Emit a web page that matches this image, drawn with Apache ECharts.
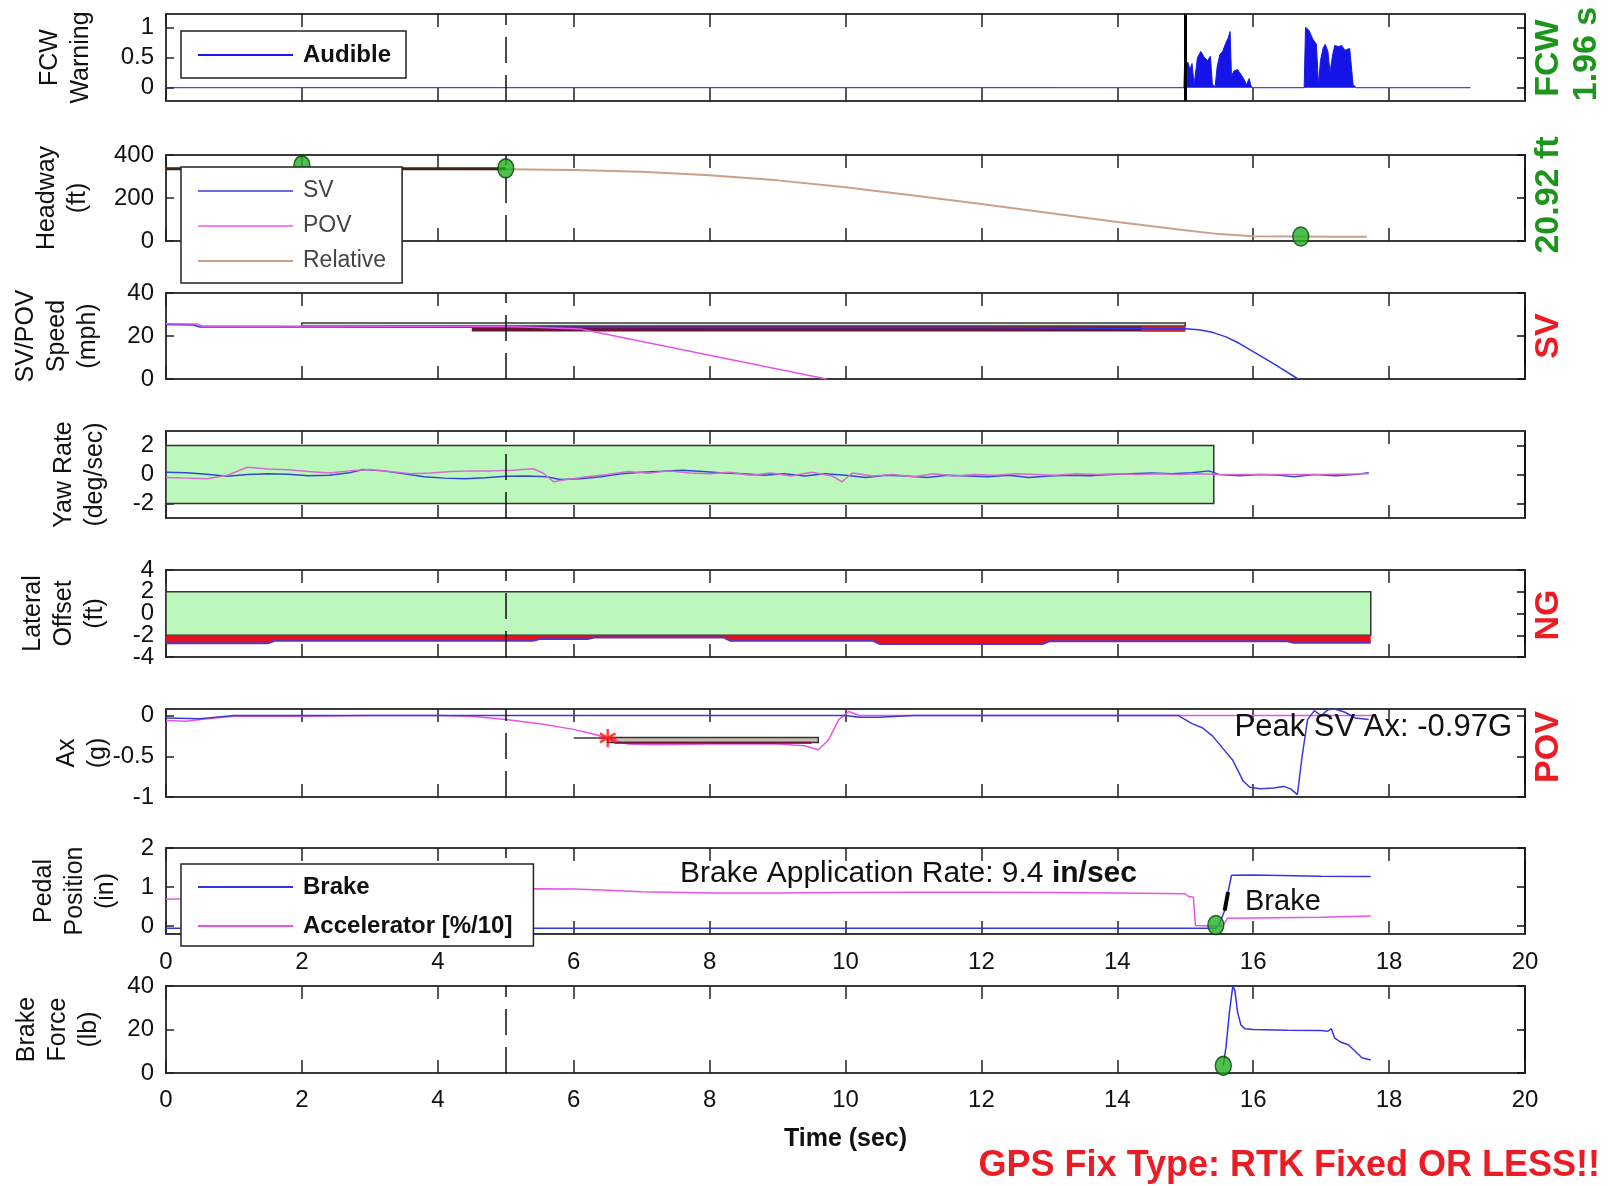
<!DOCTYPE html>
<html>
<head>
<meta charset="utf-8">
<title>FCW test run</title>
<script src="https://cdn.jsdelivr.net/npm/echarts@6/dist/echarts.min.js"></script>
<style>
  html, body { margin: 0; padding: 0; background: #fff; }
  #chart { width: 1616px; height: 1186px; }
</style>
</head>
<body>
<div id="chart"></div>
<script>
// ---------- time axis ----------
const timeTicks = [0, 2, 4, 6, 8, 10, 12, 14, 16, 18, 20];

// ---------- FCW warning (audible), [t, level] ----------
const fcwAudible = [
  [0, 0], [14.98, 0],
  [14.99, 0.38], [15.04, 0.42], [15.07, 0.3], [15.1, 0.4], [15.13, 0.05], [15.15, 0.02],
  [15.18, 0.5], [15.23, 0.6], [15.28, 0.5], [15.33, 0.45], [15.37, 0.52], [15.4, 0.05],
  [15.44, 0.02], [15.47, 0.35], [15.51, 0.55], [15.55, 0.6], [15.59, 0.72], [15.63, 0.82],
  [15.66, 0.93], [15.68, 0.2], [15.72, 0.28], [15.77, 0.3], [15.82, 0.22], [15.86, 0.15],
  [15.9, 0.05], [15.94, 0.15], [15.97, 0.02], [16.0, 0],
  [16.75, 0], [16.77, 1.0], [16.82, 0.95], [16.88, 0.8], [16.93, 0.72], [16.96, 0.05],
  [16.99, 0.45], [17.03, 0.66], [17.06, 0.72], [17.1, 0.6], [17.13, 0.25], [17.17, 0.55],
  [17.2, 0.7], [17.26, 0.68], [17.3, 0.7], [17.35, 0.62], [17.42, 0.65], [17.47, 0.05],
  [17.52, 0], [19.2, 0]
];
const warningOnset = 15.0;
const ttcAtWarning = '1.96 s';

// ---------- headway (ft) ----------
const headwaySV = [];
const headwayPOV = [];
const headwayRelative = [
  [0, 336], [1, 336], [2, 336], [3, 336], [4, 335], [5, 334], [6, 330], [7, 322],
  [8, 306], [9, 282], [10, 250], [11, 212], [12, 172], [13, 130], [14, 88], [15, 50],
  [15.5, 32], [16, 22], [16.7, 20.92], [17.2, 20], [17.67, 20]
];
const headwayHold = [[0, 336], [5, 336]];
const headwayDots = [[2, 352], [5, 338]];
const minHeadway = [16.7, 20.92];

// ---------- speed (mph) ----------
const svSpeed = [
  [0, 25.3], [0.4, 25.1], [0.5, 24.2], [2, 24.2], [5, 24.1], [8, 24.0], [12, 23.9],
  [15, 23.4], [15.2, 22.9], [15.4, 21.7], [15.6, 19.6], [15.8, 16.5], [16, 12.7],
  [16.2, 9.0], [16.4, 5.2], [16.66, 0]
];
const povSpeed = [
  [0, 25.7], [0.45, 25.6], [0.55, 24.6], [5, 24.4], [5.5, 24.0], [6.1, 23.3], [9.72, 0]
];
const speedGate = [[2, 24.6], [15, 26.0]];
const speedBandSteady = [[4.5, 22.1], [15, 24.5]];
const speedBandLate = [[14.35, 22.1], [15, 24.5]];

// ---------- yaw rate (deg/sec) ----------
const yawSV = [
  [0, 0.15], [0.3, 0.12], [0.6, 0.02], [0.9, -0.12], [1.2, 0.0], [1.5, 0.05], [1.8, 0.02],
  [2.1, -0.08], [2.4, -0.05], [2.7, 0.12], [2.9, 0.35], [3.2, 0.25], [3.5, 0.05], [3.8, -0.15],
  [4.1, -0.25], [4.4, -0.3], [4.7, -0.22], [5.0, -0.12], [5.3, -0.1], [5.6, -0.15], [5.8, -0.35],
  [6.1, -0.3], [6.4, -0.15], [6.7, 0.05], [7.0, 0.15], [7.3, 0.22], [7.6, 0.3], [7.9, 0.2],
  [8.2, 0.1], [8.5, 0.05], [8.8, -0.05], [9.1, 0.05], [9.4, -0.1], [9.7, 0.05], [10.0, -0.05],
  [10.3, -0.2], [10.6, -0.05], [10.9, -0.1], [11.2, -0.2], [11.5, -0.05], [11.8, -0.1],
  [12.1, -0.15], [12.4, -0.05], [12.7, -0.2], [13.0, -0.1], [13.3, -0.05], [13.6, -0.08],
  [13.9, 0.0], [14.2, 0.05], [14.5, 0.1], [14.8, 0.05], [15.1, 0.12], [15.35, 0.25], [15.5, 0.0],
  [15.8, -0.08], [16.1, 0.0], [16.4, -0.05], [16.6, -0.15], [16.9, 0.0], [17.2, -0.08],
  [17.5, 0.0], [17.7, 0.12]
];
const yawPOV = [
  [0, -0.2], [0.3, -0.25], [0.6, -0.3], [0.9, -0.05], [1.2, 0.5], [1.5, 0.38], [1.8, 0.32],
  [2.1, 0.2], [2.4, 0.1], [2.7, 0.25], [3.0, 0.35], [3.3, 0.2], [3.6, 0.05], [3.9, 0.1],
  [4.2, 0.2], [4.5, 0.25], [4.8, 0.25], [5.1, 0.3], [5.4, 0.4], [5.55, 0.1], [5.7, -0.5],
  [5.9, -0.35], [6.2, -0.15], [6.5, 0.0], [6.8, 0.2], [7.1, 0.08], [7.4, 0.25], [7.7, 0.1],
  [8.0, 0.05], [8.3, 0.15], [8.6, -0.05], [8.9, 0.1], [9.2, -0.1], [9.5, 0.15], [9.8, -0.1],
  [9.95, -0.5], [10.1, 0.1], [10.4, -0.1], [10.7, 0.0], [11.0, -0.15], [11.3, 0.05],
  [11.6, -0.1], [11.9, 0.0], [12.2, -0.05], [12.5, 0.05], [12.8, 0.0], [13.1, -0.05],
  [13.4, 0.05], [13.7, 0.0], [14.0, 0.05], [14.3, 0.0], [14.6, 0.05], [14.9, 0.0],
  [15.2, 0.05], [15.5, 0.0], [16.0, 0.0], [16.5, 0.0], [17.0, 0.0], [17.7, 0.05]
];
const yawGate = [[0, -2], [15.42, 2]];

// ---------- lateral offset (ft) ----------
const lateralOffset = [
  [0, -2.73], [1.5, -2.73], [1.6, -2.5], [5.4, -2.5], [5.5, -2.35], [6.2, -2.35],
  [6.3, -2.2], [8.2, -2.2], [8.3, -2.5], [10.4, -2.5], [10.5, -2.8], [12.9, -2.8],
  [13.0, -2.55], [16.5, -2.55], [16.6, -2.7], [17.73, -2.7]
];
const laneGate = [[0, -2], [17.73, 2]];
const laneEdge = -2;

// ---------- longitudinal acceleration (g) ----------
const axSV = [
  [0, -0.03], [0.5, -0.04], [1, 0], [5, 0], [10, 0], [10.2, -0.02], [10.5, -0.02], [11, 0],
  [14.9, 0], [15.0, -0.05], [15.1, -0.1], [15.25, -0.15], [15.4, -0.25], [15.55, -0.4],
  [15.7, -0.55], [15.85, -0.8], [15.95, -0.88], [16.1, -0.9], [16.3, -0.89], [16.45, -0.87],
  [16.55, -0.9], [16.65, -0.97], [16.72, -0.5], [16.8, -0.05], [16.9, 0.06], [17.0, 0.0],
  [17.1, 0.07], [17.2, 0.08], [17.35, 0.04], [17.5, -0.03], [17.7, -0.05]
];
const axPOV = [
  [0, -0.06], [0.3, -0.07], [0.6, -0.04], [1, -0.01], [2, -0.01], [3, 0.0], [4, 0.0],
  [4.5, -0.01], [5, -0.05], [5.5, -0.1], [6, -0.17], [6.3, -0.23], [6.6, -0.3], [6.8, -0.35],
  [7.2, -0.36], [8, -0.35], [9, -0.35], [9.4, -0.37], [9.6, -0.42], [9.75, -0.3],
  [9.9, -0.05], [10.05, 0.05], [10.2, 0.0], [11, 0], [17.75, 0]
];
const axGateLead = [[6.0, -0.275], [6.5, -0.275]];
const axGate = [[6.5, -0.33], [9.6, -0.27]];
const axSteady = [[6.6, -0.335], [9.5, -0.335]];
const axOnset = [6.5, -0.275];

// ---------- pedal position (in) ----------
const brakePedal = [
  [0, -0.05], [15.45, -0.05], [15.5, 0.05], [15.58, 0.4], [15.63, 0.87], [15.68, 1.3],
  [16, 1.31], [17, 1.28], [17.73, 1.27]
];
const accelPedal = [
  [0, 0.69], [0.3, 0.7], [2, 0.8], [4, 0.9], [5.45, 0.96], [6, 0.95], [6.5, 0.92], [7, 0.88],
  [8, 0.85], [9, 0.85], [10, 0.86], [11, 0.87], [12, 0.87], [13, 0.86], [14, 0.85],
  [15, 0.83], [15.05, 0.76], [15.12, 0.74], [15.15, 0.02], [15.55, 0.0], [15.62, 0.2],
  [16, 0.21], [17, 0.23], [17.73, 0.26]
];
const brakeOnsetPedal = [15.45, 0.03];
const brakeRate = 9.4;            // in/sec
const brakeRateStart = [15.58, 0.40];
const brakeRateSpan = 0.05;       // sec

// ---------- brake force (lb) ----------
const brakeForce = [
  [15.56, 3.3], [15.6, 12], [15.65, 28], [15.7, 40], [15.73, 38], [15.77, 28], [15.82, 22],
  [15.88, 20.3], [16, 20], [16.5, 19.6], [17, 19.5], [17.1, 19.2], [17.15, 20.4], [17.2, 16],
  [17.3, 14], [17.4, 13], [17.5, 10], [17.6, 7], [17.73, 6]
];
const brakeOnsetForce = [15.56, 3.3];

// ---------- axis ticks per panel ----------
const fcwTicks = [0, 0.5, 1];
const headwayTicks = [0, 200, 400];
const speedTicks = [0, 20, 40];
const yawTicks = [-2, 0, 2];
const lateralTicks = [-4, -2, 0, 2, 4];
const lateralTicksOuter = [-4, 0, 4];
const lateralTicksInner = [-2, 2];
const axTicks = [-1, -0.5, 0];
const pedalTicks = [0, 1, 2];
const forceTicks = [0, 20, 40];

// ---------- panel titles ----------
const panelTitles = [
  'FCW\nWarning', 'Headway\n(ft)', 'SV/POV\nSpeed\n(mph)', 'Yaw Rate\n(deg/sec)',
  'Lateral\nOffset\n(ft)', 'Ax\n(g)', 'Pedal\nPosition\n(in)', 'Brake\nForce\n(lb)'
];

// ---------- layout ----------
const FONT = '"Liberation Sans", Arial, Helvetica, sans-serif';
const BLUE = '#3434e2';
const PINK = '#e455e6';
const GREEN_FILL = '#bcf7bc';
const DOT = { color: '#22b022', borderColor: '#0d3d0d', borderWidth: 1.5 };

// labelTicks: the lateral axis packs five labels tightly, so they are split over two label layers
const panels = [
  { top: 14,  h: 87, min: -0.22, max: 1.22, ticks: fcwTicks,     titleX: 66 },
  { top: 155, h: 86, min: 0,     max: 400,  ticks: headwayTicks, titleX: 63 },
  { top: 293, h: 86, min: 0,     max: 40,   ticks: speedTicks,   titleX: 57 },
  { top: 431, h: 87, min: -3,    max: 3,    ticks: yawTicks,     titleX: 80 },
  { top: 570, h: 87, min: -4,    max: 4,    ticks: lateralTicks, titleX: 64, labelTicks: lateralTicksOuter, extraLabels: lateralTicksInner },
  { top: 709, h: 88, min: -1,    max: 0.08, ticks: axTicks,      titleX: 83 },
  { top: 848, h: 86, min: -0.2,  max: 2,    ticks: pedalTicks,   titleX: 75 },
  { top: 986, h: 87, min: 0,     max: 40,   ticks: forceTicks,   titleX: 58 }
];

const frameLine = { show: true, onZero: false, lineStyle: { color: '#3a3a3a', width: 2 } };
const yLabelStyle = {
  show: true, fontSize: 24, color: '#111', fontFamily: FONT, margin: 12,
  hideOverlap: false, showMinLabel: true, showMaxLabel: true
};
const grid = [], xAxis = [], yAxis = [], extraY = [];

panels.forEach((p, i) => {
  grid.push({ left: 166, right: 91, top: p.top, height: p.h, containLabel: false, outerBoundsMode: 'none' });
  const showX = i >= 6;
  xAxis.push({
    type: 'value', gridIndex: i, min: 0, max: 20, position: 'bottom',
    axisLine: frameLine,
    axisTick: { show: true, inside: true, length: 13, customValues: timeTicks, lineStyle: { color: '#222', width: 1.5 } },
    axisLabel: { show: showX, customValues: timeTicks, fontSize: 24, color: '#111', fontFamily: FONT, margin: i === 6 ? 16 : 15, hideOverlap: false },
    splitLine: { show: false },
    name: i === 7 ? 'Time (sec)' : '', nameLocation: 'middle', nameGap: 54,
    nameTextStyle: { fontSize: 25, fontWeight: 'bold', color: '#111', fontFamily: FONT }
  });
  xAxis.push({
    type: 'value', gridIndex: i, min: 0, max: 20, position: 'top',
    axisLine: frameLine,
    axisTick: { show: true, inside: true, length: 13, customValues: timeTicks, lineStyle: { color: '#222', width: 1.5 } },
    axisLabel: { show: false }, splitLine: { show: false }
  });
  yAxis.push({
    type: 'value', gridIndex: i, min: p.min, max: p.max, position: 'left',
    axisLine: frameLine,
    axisTick: { show: true, inside: true, length: 8, customValues: p.ticks, lineStyle: { color: '#222', width: 1.5 } },
    axisLabel: Object.assign({ customValues: p.labelTicks || p.ticks }, yLabelStyle),
    splitLine: { show: false }
  });
  yAxis.push({
    type: 'value', gridIndex: i, min: p.min, max: p.max, position: 'right',
    axisLine: { show: true, onZero: false, lineStyle: { color: '#111', width: 2 } },
    axisTick: { show: true, inside: true, length: 8, customValues: p.ticks, lineStyle: { color: '#111', width: 1.5 } },
    axisLabel: { show: false }, splitLine: { show: false }
  });
  if (p.extraLabels) {
    extraY.push({
      type: 'value', gridIndex: i, min: p.min, max: p.max, position: 'left',
      axisLine: { show: false }, axisTick: { show: false }, splitLine: { show: false },
      axisLabel: Object.assign({ customValues: p.extraLabels }, yLabelStyle)
    });
  }
});
yAxis.push(...extraY);

// dashed marker at t = 5 s shared by every panel
const t5Marker = {
  silent: true, symbol: 'none', label: { show: false },
  lineStyle: { color: '#111', width: 1.5, type: [26, 12] },
  data: [{ xAxis: 5 }]
};

function ax(i) { return { xAxisIndex: 2 * i, yAxisIndex: 2 * i }; }
function line(i, name, data, color, width, extra) {
  return Object.assign({
    type: 'line', name, data, ...ax(i), symbol: 'none', showSymbol: false,
    lineStyle: { color, width }, itemStyle: { color }, z: 3, silent: true
  }, extra || {});
}
function box(i, corners, fill, border, z) {
  return {
    type: 'line', data: [], ...ax(i), z: z, silent: true,
    markArea: {
      silent: true,
      itemStyle: { color: fill, borderColor: border, borderWidth: border ? 1.5 : 0 },
      data: [[{ coord: corners[0] }, { coord: corners[1] }]]
    }
  };
}
function dots(i, data, size) {
  return {
    type: 'scatter', data, ...ax(i), symbol: 'circle', symbolSize: size || [16, 19],
    itemStyle: DOT, z: 6, silent: true
  };
}

const brakeRateEnd = [brakeRateStart[0] + brakeRateSpan, brakeRateStart[1] + brakeRate * brakeRateSpan];
const peakAx = Math.min(...axSV.map(d => d[1]));

const series = [
  // FCW
  line(0, 'Audible', fcwAudible, '#1a1ae8', 1, {
    areaStyle: { color: '#1414e6', opacity: 1 },
    markLine: {
      silent: true, symbol: 'none', label: { show: false },
      data: [
        { xAxis: 5, lineStyle: { color: '#111', width: 1.5, type: [26, 12] } },
        { xAxis: warningOnset, lineStyle: { color: '#000', width: 3, type: 'solid' } }
      ]
    }
  }),
  // Headway
  line(1, 'SV', headwaySV, '#6a6ad8', 2),
  line(1, 'POV', headwayPOV, '#ee82ee', 2),
  line(1, 'Relative', headwayRelative, '#c9a08a', 2, { markLine: t5Marker }),
  line(1, 'hold', headwayHold, '#3d2418', 3, { z: 4 }),
  dots(1, headwayDots.concat([minHeadway])),
  // Speed
  box(2, speedGate, '#e2f2e2', '#3a3a3a', 1),
  line(2, 'SV speed', svSpeed, BLUE, 1.5, { markLine: t5Marker }),
  line(2, 'POV speed', povSpeed, PINK, 1.5),
  box(2, speedBandSteady, '#6c1436', null, 4),
  box(2, speedBandLate, '#c8222a', null, 5),
  // Yaw
  box(3, yawGate, GREEN_FILL, '#333', 1),
  line(3, 'SV yaw', yawSV, '#3048d8', 1.5, { markLine: t5Marker }),
  line(3, 'POV yaw', yawPOV, '#d66ad0', 1.5),
  // Lateral
  box(4, laneGate, GREEN_FILL, '#333', 1),
  line(4, 'Offset', lateralOffset, '#5a36c0', 2, {
    areaStyle: { color: '#e4121c', opacity: 1, origin: laneEdge },
    markLine: t5Marker
  }),
  // Ax
  line(5, 'POV ax', axPOV, PINK, 1.5, { markLine: t5Marker }),
  line(5, 'SV ax', axSV, '#3a3ada', 1.5),
  line(5, 'gate lead', axGateLead, '#6a6a6a', 2, { z: 4 }),
  box(5, axGate, '#c8bfb0', '#333', 4),
  line(5, 'steady', axSteady, '#6c1436', 2, { z: 4 }),
  {
    type: 'scatter', data: [axOnset], ...ax(5), silent: true, z: 7,
    symbol: 'path://M0,-10L0,10M-8.66,-5L8.66,5M-8.66,5L8.66,-5M-10,0L10,0',
    symbolSize: 18, itemStyle: { color: 'none', borderColor: '#ff1010', borderWidth: 2.5 }
  },
  // Pedal
  line(6, 'Brake', brakePedal, BLUE, 1.5, { markLine: t5Marker }),
  line(6, 'Accelerator [%/10]', accelPedal, PINK, 1.5),
  line(6, 'rate', [brakeRateStart, brakeRateEnd], '#000', 4, { z: 5 }),
  dots(6, [brakeOnsetPedal]),
  // Brake force
  line(7, 'Force', brakeForce, BLUE, 1.5, { markLine: t5Marker }),
  dots(7, [brakeOnsetForce])
];

const legendBase = {
  orient: 'vertical', left: 181, itemWidth: 95, itemHeight: 24, selectedMode: false,
  borderColor: '#222', borderWidth: 1.5, backgroundColor: '#fff', borderRadius: 0,
  icon: 'path://M0,11L95,11L95,13L0,13Z', z: 10
};
const legend = [
  Object.assign({}, legendBase, {
    data: ['Audible'], top: 31, padding: [12, 15, 11, 17], itemGap: 10,
    textStyle: { fontSize: 24, fontWeight: 'bold', color: '#111', fontFamily: FONT, lineHeight: 24, padding: [0, 0, 0, 5] }
  }),
  Object.assign({}, legendBase, {
    data: ['SV', 'POV', 'Relative'], top: 167, padding: [12, 16, 10, 17], itemGap: 11,
    textStyle: { fontSize: 23, color: '#444', fontFamily: FONT, lineHeight: 24, padding: [0, 0, 0, 5] }
  }),
  Object.assign({}, legendBase, {
    data: ['Brake', 'Accelerator [%/10]'], top: 864, padding: [11, 21, 8, 17], itemGap: 15,
    textStyle: { fontSize: 24, fontWeight: 'bold', color: '#111', fontFamily: FONT, lineHeight: 24, padding: [0, 0, 0, 5] }
  })
];

function sideLabel(text, x, y, color) {
  return {
    type: 'text', x, y, rotation: Math.PI / 2, z: 20, silent: true,
    style: { text, fill: color, fontSize: 34, fontWeight: 'bold', fontFamily: FONT, align: 'center', verticalAlign: 'middle' }
  };
}
function panelTitle(i) {
  const p = panels[i];
  return {
    type: 'text', x: p.titleX, y: p.top + p.h / 2, rotation: Math.PI / 2, z: 20, silent: true,
    style: {
      text: panelTitles[i], fill: '#111', fontSize: 25, lineHeight: 31, fontFamily: FONT,
      align: 'center', verticalAlign: 'middle'
    }
  };
}
const GREEN_TXT = '#1d951d';
const RED_TXT = '#ec1c24';

const graphic = panels.map((p, i) => panelTitle(i)).concat([
  sideLabel('FCW', 1549, 58, GREEN_TXT),
  sideLabel(ttcAtWarning, 1587, 54, GREEN_TXT),
  sideLabel(minHeadway[1].toFixed(2) + ' ft', 1549, 195, GREEN_TXT),
  sideLabel('SV', 1549, 336, RED_TXT),
  sideLabel('NG', 1549, 615, RED_TXT),
  sideLabel('POV', 1549, 747, RED_TXT),
  {
    type: 'text', x: 1512, y: 727, z: 20, silent: true,
    style: { text: 'Peak SV Ax: ' + peakAx.toFixed(2) + 'G', fill: '#111', fontSize: 31, fontFamily: FONT, align: 'right', verticalAlign: 'middle' }
  },
  {
    type: 'text', x: 680, y: 874, z: 20, silent: true,
    style: {
      text: '{n|Brake Application Rate: ' + brakeRate.toFixed(1) + ' }{b|in/sec}',
      fill: '#111', fontFamily: FONT, align: 'left', verticalAlign: 'middle',
      rich: {
        n: { fontSize: 30, fontFamily: FONT, fill: '#111' },
        b: { fontSize: 30, fontFamily: FONT, fontWeight: 'bold', fill: '#111' }
      }
    }
  },
  {
    type: 'text', x: 1245, y: 902, z: 20, silent: true,
    style: { text: 'Brake', fill: '#111', fontSize: 29, fontFamily: FONT, align: 'left', verticalAlign: 'middle' }
  },
  {
    type: 'text', x: 1600, y: 1166, z: 20, silent: true,
    style: { text: 'GPS Fix Type: RTK Fixed OR LESS!!', fill: '#ec1c24', fontSize: 36, fontWeight: 'bold', fontFamily: FONT, align: 'right', verticalAlign: 'middle' }
  }
]);

const chart = echarts.init(document.getElementById('chart'), null, { renderer: 'canvas' });
chart.setOption({
  animation: false,
  backgroundColor: '#fff',
  textStyle: { fontFamily: FONT },
  grid, xAxis, yAxis, legend, series, graphic
});
</script>
</body>
</html>
